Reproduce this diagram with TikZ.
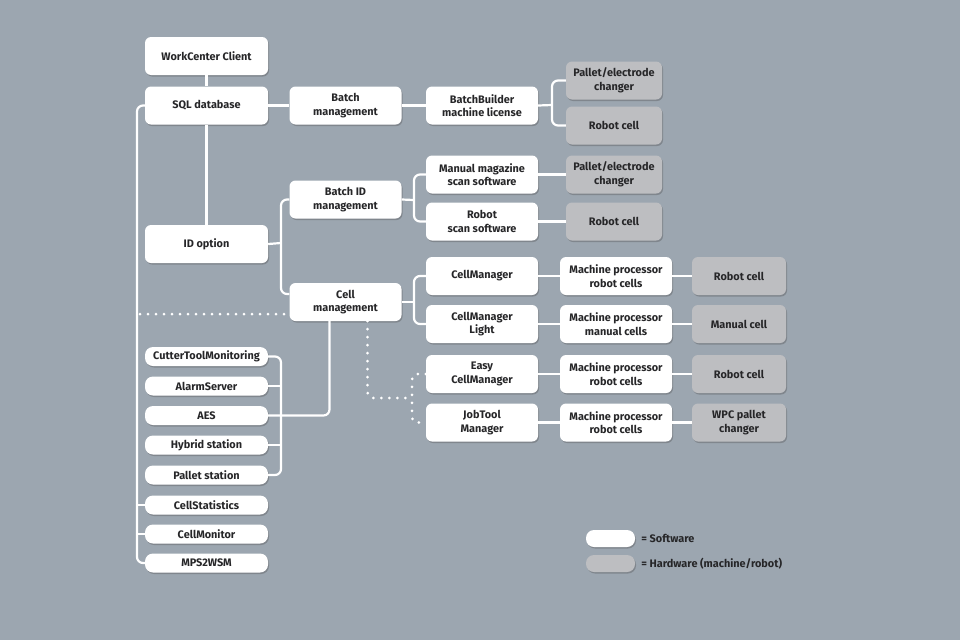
\documentclass[tikz,border=0pt]{standalone}
\usepackage{fontspec}
\setmainfont{Fira Sans}
\usetikzlibrary{shadows,calc}
\definecolor{bg}{HTML}{9CA6B0}
\definecolor{hwgray}{HTML}{BDBEC1}
\definecolor{txt}{HTML}{262628}
\tikzset{
  box/.style={rounded corners=6pt, align=center, inner sep=1pt,
    font=\bfseries\fontsize{10.9}{13.5}\selectfont, text=txt,
    drop shadow={shadow xshift=1pt, shadow yshift=-1.5pt, opacity=0.35, fill=black!70}},
  sw/.style={box, fill=white},
  hw/.style={box, fill=hwgray},
  big/.style={minimum width=123pt, minimum height=38pt},
  mid/.style={minimum width=112pt, minimum height=38pt},
  hwa/.style={minimum width=96pt, minimum height=38pt},
  hwb/.style={minimum width=94pt, minimum height=38pt},
  small/.style={minimum width=123pt, minimum height=19pt, rounded corners=8pt},
  conn/.style={draw=white, line width=2.2pt, rounded corners=6pt},
  dotline/.style={draw=white, line width=3pt, line cap=round, dash pattern=on 0pt off 8pt, rounded corners=6pt},
  legtext/.style={font=\bfseries\fontsize{10.9}{13}\selectfont, text=txt, anchor=west, inner sep=1pt}
}
\begin{document}
\begin{tikzpicture}[x=1pt,y=-1pt]
\fill[bg] (0,0) rectangle (960,640);
\useasboundingbox (0,0) rectangle (960,640);

% coordinates for forks
\coordinate (f1) at (552,105);
\coordinate (f2) at (414,200);
\coordinate (f3) at (281,243);
\coordinate (f4) at (414,302);
\coordinate (tb) at (281,415);
\coordinate (lb) at (137,300);
\coordinate (d0) at (140,314);
\coordinate (d1) at (412,398);

% nodes
\node[sw,big] (wc) at (206.5,56) {WorkCenter Client};
\node[sw,big] (sql) at (206.5,105.5) {SQL database};
\node[sw,mid] (bm) at (345.5,105.5) {Batch\\management};
\node[sw,mid] (bb) at (482,105.5) {BatchBuilder\\machine license};
\node[hw,hwa] (pec1) at (614,80.5) {Pallet/electrode\\changer};
\node[hw,hwa] (rc1) at (614,125.5) {Robot cell};
\node[sw,mid] (mm) at (482,174.5) {Manual magazine\\scan software};
\node[sw,mid] (bid) at (345.5,199.5) {Batch ID\\management};
\node[hw,hwa] (pec2) at (614,174.5) {Pallet/electrode\\changer};
\node[sw,mid] (rs) at (482,221.5) {Robot\\scan software};
\node[hw,hwa] (rc2) at (614,221.5) {Robot cell};
\node[sw,big] (idopt) at (206.5,244) {ID option};
\node[sw,mid] (cmgr) at (482,276) {CellManager};
\node[sw,mid] (cm) at (345.5,302) {Cell\\management};
\node[sw,mid] (mp1) at (616,276) {Machine processor\\robot cells};
\node[hw,hwb] (rc3) at (739,276) {Robot cell};
\node[sw,mid] (cml) at (482,324) {CellManager\\Light};
\node[sw,mid] (mp2) at (616,324) {Machine processor\\manual cells};
\node[hw,hwb] (mc) at (739,324) {Manual cell};
\node[sw,mid] (ecm) at (482,374) {Easy\\CellManager};
\node[sw,mid] (mp3) at (616,374) {Machine processor\\robot cells};
\node[hw,hwb] (rc4) at (739,374) {Robot cell};
\node[sw,mid] (jt) at (482,422.5) {JobTool\\Manager};
\node[sw,mid] (mp4) at (616,422.5) {Machine processor\\robot cells};
\node[hw,hwb] (wpc) at (739,422.5) {WPC pallet\\changer};

\node[sw,small] (ctm) at (206.5,356.5) {CutterToolMonitoring};
\node[sw,small] (as) at (206.5,386) {AlarmServer};
\node[sw,small] (aes) at (206.5,415.5) {AES};
\node[sw,small] (hs) at (206.5,445) {Hybrid station};
\node[sw,small] (ps) at (206.5,475) {Pallet station};
\node[sw,small] (cs) at (206.5,505) {CellStatistics};
\node[sw,small] (cmon) at (206.5,534) {CellMonitor};
\node[sw,small] (mps) at (206.5,563) {MPS2WSM};

% legend
\node[sw, minimum width=49pt, minimum height=17pt, rounded corners=8pt] (lsw) at (610.5,538.5) {};
\node[legtext] (lswt) at ([xshift=5pt]lsw.east) {= Software};
\node[hw, minimum width=49pt, minimum height=17pt, rounded corners=8pt] (lhw) at (610.5,563.5) {};
\node[legtext] (lhwt) at ([xshift=5pt]lhw.east) {= Hardware (machine/robot)};

% connectors
\draw[conn] (wc.south) -- (sql.north);
\draw[conn] (sql.south) -- (idopt.north);
\draw[conn] (sql) -- (bm);
\draw[conn] (bm) -- (bb);
\draw[conn] (bb.east) -- (f1);
\draw[conn] (pec1.west) -| (f1) |- (rc1.west);
\draw[conn] (bid.east) -- (f2);
\draw[conn] (mm.west) -| (f2) |- (rs.west);
\draw[conn] (mm) -- (pec2);
\draw[conn] (rs) -- (rc2);
\draw[conn] (idopt.east) -- (f3);
\draw[conn] (bid.west) -| (f3) |- ([yshift=8pt]cm.west);
\draw[conn] (cm.east) -- (f4);
\draw[conn] (cmgr.west) -| (f4) |- (cml.west);
\draw[conn] (cmgr) -- (mp1);
\draw[conn] (mp1) -- (rc3);
\draw[conn] (cml) -- (mp2);
\draw[conn] (mp2) -- (mc);
\draw[conn] (ecm) -- (mp3);
\draw[conn] (mp3) -- (rc4);
\draw[conn] (jt) -- (mp4);
\draw[conn] (mp4) -- (wpc);
\draw[conn] ([xshift=-16pt]cm.south) |- (aes.east);
\draw[conn] (ctm.east) -| (tb) |- (ps.east);
\draw[conn] (as.east) -- (as.east -| tb);
\draw[conn] (hs.east) -- (hs.east -| tb);
\draw[conn] (sql.west) -| (lb) |- (mps.west);
\draw[conn] (cs.west) -- (cs.west -| lb);
\draw[conn] (cmon.west) -- (cmon.west -| lb);

% dotted
\draw[dotline] (d0) -- (d0 -| cm.west);
\draw[dotline] ([xshift=22pt]cm.south) |- (d1);
\draw[dotline] (ecm.west) -| (d1) |- (jt.west);
\end{tikzpicture}
\end{document}
